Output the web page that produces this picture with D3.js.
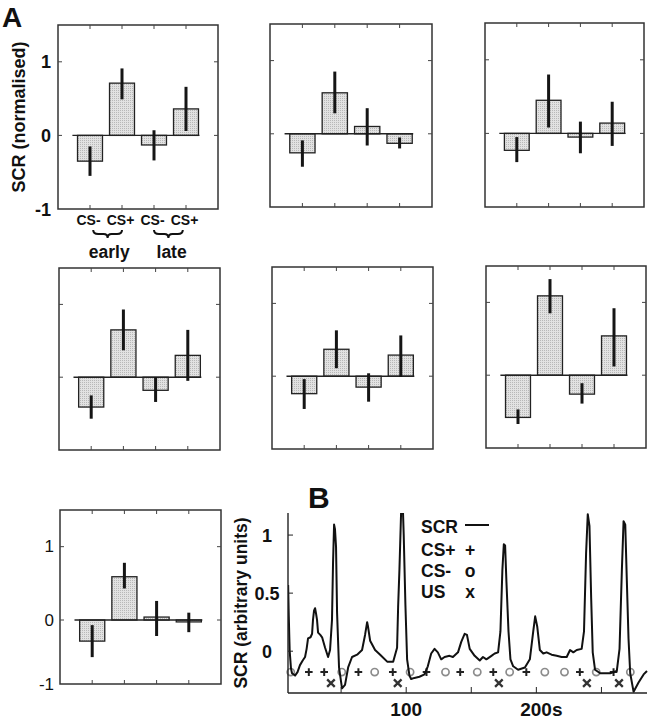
<!DOCTYPE html>
<html><head><meta charset="utf-8">
<script src="https://cdn.jsdelivr.net/npm/d3@7"></script>
<style>
body{margin:0;background:#fff}
svg{display:block}
text{font-family:"Liberation Sans",Arial,Helvetica,sans-serif;fill:#111}
</style>
</head><body>
<svg id="c" width="649" height="719"></svg>
<script>
// ---------------- DATA ----------------
const categories = ["CS-", "CS+", "CS-", "CS+"];
const groupLabels = ["early", "late"];
const yTickValuesA = [-1, 0, 1];

// bar heights for the 7 panels of A (normalised SCR)
const barValues = [
  [-0.35, 0.71, -0.13, 0.36],
  [-0.26, 0.56, 0.10, -0.13],
  [-0.23, 0.45, -0.05, 0.14],
  [-0.41, 0.65, -0.18, 0.30],
  [-0.24, 0.37, -0.15, 0.29],
  [-0.58, 1.09, -0.26, 0.54],
  [-0.33, 0.59, 0.04, -0.03]
];
// error bar lower ends
const errLow = [
  [-0.55, 0.49, -0.34, 0.06],
  [-0.45, 0.28, -0.16, -0.20],
  [-0.39, 0.08, -0.27, -0.17],
  [-0.57, 0.37, -0.34, -0.05],
  [-0.45, 0.11, -0.35, -0.01],
  [-0.67, 0.85, -0.39, 0.12],
  [-0.58, 0.43, -0.25, -0.19]
];
// error bar upper ends
const errHigh = [
  [-0.15, 0.91, 0.07, 0.66],
  [-0.09, 0.85, 0.35, -0.05],
  [-0.05, 0.80, 0.16, 0.43],
  [-0.25, 0.93, 0.00, 0.65],
  [-0.04, 0.63, 0.04, 0.56],
  [-0.47, 1.32, -0.11, 0.92],
  [-0.08, 0.78, 0.26, 0.10]
];

// panel B: SCR trace
const traceTime = [9.3, 9.8, 10.5, 11.5, 12.3, 14.6, 16.5, 18.4, 20.5, 22.3, 23.5, 24.6, 26.5, 27.7, 28.4, 29.2, 30, 30.8, 31.5, 32.3, 34, 35.4, 37.7, 40, 41.5, 43, 43.8, 44.6, 45.3, 46.1, 46.9, 48.4, 50.7, 53, 55.4, 58.4, 62.3, 66.1, 68.4, 70, 70.7, 72.3, 76.1, 80, 85.4, 90, 93, 93.8, 94.8, 96.1, 97.4, 98.1, 99.4, 100.7, 102.5, 103.8, 106.3, 110.2, 114.1, 116.6, 119.2, 121.8, 124.3, 126.9, 129.5, 133.3, 135.9, 139.8, 142.3, 144.9, 146.7, 148.8, 152.6, 156.5, 159, 161.6, 165.5, 168, 170.6, 172.4, 173.9, 175, 176, 177, 178.6, 180.1, 182.2, 186, 191.2, 195, 197.6, 199.1, 200.7, 202.7, 205.3, 207.9, 211.7, 215.6, 219.4, 223.3, 225.9, 228.4, 231, 234.8, 236.6, 238.2, 239.5, 240.8, 242.1, 243.3, 245.1, 249, 256.7, 261.8, 263.9, 265.7, 267, 268.3, 269.5, 270.8, 272.1, 274.7, 278.5, 282.4, 285];
const traceSCR = [0.57, 0.3, 0.0, -0.15, -0.19, -0.21, -0.18, -0.12, -0.08, -0.05, 0.02, 0.11, 0.12, 0.15, 0.27, 0.35, 0.37, 0.32, 0.27, 0.16, 0.14, 0.12, 0.03, -0.05, 0.01, 0.27, 0.76, 1.09, 1.05, 0.9, 0.33, -0.14, -0.32, -0.29, -0.14, -0.05, -0.03, 0.01, 0.14, 0.25, 0.21, 0.09, 0.01, -0.03, -0.09, -0.09, 0.03, 0.38, 0.7, 1.2, 1.25, 1.0, 0.4, -0.07, -0.21, -0.24, -0.23, -0.22, -0.2, -0.13, -0.02, 0.02, -0.01, -0.07, -0.05, -0.04, -0.05, -0.01, 0.08, 0.15, 0.14, 0.02, -0.04, -0.08, -0.05, -0.07, -0.04, -0.02, -0.01, 0.17, 0.7, 0.92, 0.91, 0.6, 0.17, -0.07, -0.13, -0.16, -0.14, -0.07, 0.17, 0.3, 0.21, 0.01, -0.02, -0.01, -0.03, -0.04, -0.05, -0.05, 0.01, -0.01, 0.01, 0.02, 0.17, 0.84, 1.18, 1.08, 0.46, -0.01, -0.16, -0.19, -0.19, -0.17, 0.02, 0.7, 1.12, 1.09, 0.61, 0.11, -0.19, -0.35, -0.27, -0.2, -0.17];
const csPlusTimes = [25.2, 37, 63.3, 89.7, 115.6, 141.5, 166.9, 192.3, 233.4, 259.3];
const csMinusTimes = [11.3, 50.5, 75.8, 103, 130.2, 154.6, 179.5, 206.5, 221.6, 246, 272.2];
const usTimes = [42.2, 93.5, 171.2, 238.8, 263.5];
const bYTicks = [0, 0.5, 1];
const bYTickLabels = ["0", "0.5", "1"];
const bXTicks = [50, 100, 150, 200, 250];
const bXTickLabels = ["", "100", "", "200s", ""];
const legendLabels = ["SCR", "CS+", "CS-", "US"];
const legendSymbols = ["", "+", "o", "x"];

// ---------------- DRAW ----------------
const svg = d3.select("#c");
const defs = svg.append("defs");
const pat = defs.append("pattern").attr("id", "stip").attr("width", 2).attr("height", 2)
  .attr("patternUnits", "userSpaceOnUse");
pat.append("rect").attr("width", 2).attr("height", 2).attr("fill", "#e2e2e2");
pat.append("rect").attr("width", 1).attr("height", 1).attr("fill", "#b8b8b8");

const boxes = [
  {x: 58, y: 25, w: 160, h: 184},
  {x: 270, y: 24, w: 162, h: 183},
  {x: 485, y: 23, w: 159, h: 184},
  {x: 59, y: 268, w: 161, h: 182},
  {x: 272, y: 267, w: 161, h: 182},
  {x: 486, y: 266, w: 160, h: 182},
  {x: 60, y: 510, w: 161, h: 174}
];

function drawPanel(i) {
  const b = boxes[i];
  const g = svg.append("g");
  const x = d3.scaleLinear().domain([0, 5]).range([b.x, b.x + b.w]);
  const y = (i === 6)
    ? d3.scaleLinear().domain([-1, 0, 1.5]).range([b.y + b.h, b.y + b.h - 64, b.y])
    : d3.scaleLinear().domain([-1, 1.5]).range([b.y + b.h, b.y]);
  const bw = 0.78;
  const vals = barValues[i];
  // bars
  g.selectAll("rect.bar").data(vals).enter().append("rect")
    .attr("x", (d, k) => x(k + 1 - bw / 2))
    .attr("width", x(bw) - x(0))
    .attr("y", d => Math.min(y(d), y(0)))
    .attr("height", d => Math.abs(y(d) - y(0)))
    .attr("fill", "url(#stip)").attr("stroke", "#222").attr("stroke-width", 1.3);
  // baseline
  g.append("line").attr("x1", x(0.45)).attr("x2", x(4.42)).attr("y1", y(0)).attr("y2", y(0))
    .attr("stroke", "#222").attr("stroke-width", 1.4);
  // error bars
  g.selectAll("line.err").data(vals).enter().append("line")
    .attr("x1", (d, k) => x(k + 1)).attr("x2", (d, k) => x(k + 1))
    .attr("y1", (d, k) => y(errLow[i][k])).attr("y2", (d, k) => y(errHigh[i][k]))
    .attr("stroke", "#151515").attr("stroke-width", 3);
  // frame
  g.append("rect").attr("x", b.x).attr("y", b.y).attr("width", b.w).attr("height", b.h)
    .attr("fill", "none").attr("stroke", "#333").attr("stroke-width", 1.5);
  // ticks
  const tl = 4;
  [1, 2, 3, 4].forEach(k => {
    g.append("line").attr("x1", x(k)).attr("x2", x(k)).attr("y1", b.y).attr("y2", b.y + tl).attr("stroke", "#444");
    g.append("line").attr("x1", x(k)).attr("x2", x(k)).attr("y1", b.y + b.h).attr("y2", b.y + b.h - tl).attr("stroke", "#444");
  });
  [0, 1].forEach(v => {
    g.append("line").attr("x1", b.x).attr("x2", b.x + tl).attr("y1", y(v)).attr("y2", y(v)).attr("stroke", "#444");
    g.append("line").attr("x1", b.x + b.w).attr("x2", b.x + b.w - tl).attr("y1", y(v)).attr("y2", y(v)).attr("stroke", "#444");
  });
  if (i === 0) {
    g.selectAll("text.yt").data(yTickValuesA).enter().append("text")
      .attr("x", 51).attr("y", d => y(d) + 6.5).attr("text-anchor", "end")
      .attr("font-size", 18).attr("font-weight", "bold").text(d => d);
    g.selectAll("text.cat").data(categories).enter().append("text")
      .attr("x", (d, k) => x(k + 1) - 1.5).attr("y", 225).attr("text-anchor", "middle")
      .attr("font-size", 14).attr("font-weight", "bold").text(d => d);
    // braces
    [[1.1, 2.0], [3.0, 3.9]].forEach(([a, c]) => {
      const x1 = x(a), x2 = x(c), m = (x1 + x2) / 2, t = 230, mid = 234, bot = 238;
      g.append("path").attr("d",
        `M${x1},${t} Q${x1},${mid} ${x1 + 5},${mid} L${m - 4},${mid} Q${m},${mid} ${m},${bot} Q${m},${mid} ${m + 4},${mid} L${x2 - 5},${mid} Q${x2},${mid} ${x2},${t}`)
        .attr("fill", "none").attr("stroke", "#111").attr("stroke-width", 2);
    });
    g.selectAll("text.grp").data(groupLabels).enter().append("text")
      .attr("x", (d, k) => x(k === 0 ? 1.6 : 3.55)).attr("y", 258).attr("text-anchor", "middle")
      .attr("font-size", 17.5).attr("font-weight", "bold").text(d => d);
    svg.append("text").attr("transform", `translate(19,${(b.y + b.y + b.h) / 2}) rotate(-90)`)
      .attr("text-anchor", "middle").attr("dominant-baseline", "central")
      .attr("font-size", 18).attr("font-weight", "bold").text("SCR (normalised)");
  }
  if (i === 6) {
    g.selectAll("text.yt").data(yTickValuesA).enter().append("text")
      .attr("x", 54).attr("y", d => y(d) + 5.5).attr("text-anchor", "end")
      .attr("font-size", 17).text(d => d === -1 ? "-1" : d);
  }
}
for (let i = 0; i < 7; i++) drawPanel(i);

svg.append("text").attr("x", 2).attr("y", 27).attr("font-size", 28).attr("font-weight", "bold").text("A");

// ---------------- PANEL B ----------------
const bx = d3.scaleLinear().domain([9.2, 285]).range([288, 647]);
const by = d3.scaleLinear().domain([-0.36, 1.19]).range([693, 513]);
const gB = svg.append("g");
defs.append("clipPath").attr("id", "clipB").append("rect")
  .attr("x", 288).attr("y", 513).attr("width", 360).attr("height", 181);

// markers
gB.selectAll("circle.csm").data(csMinusTimes).enter().append("circle")
  .attr("cx", d => bx(d)).attr("cy", by(-0.18)).attr("r", 3.6)
  .attr("fill", "none").attr("stroke", "#8c8c8c").attr("stroke-width", 1.7);
gB.selectAll("path.csp").data(csPlusTimes).enter().append("path")
  .attr("d", d => { const cx = bx(d), cy = by(-0.18), s = 3.8; return `M${cx - s},${cy}H${cx + s}M${cx},${cy - s}V${cy + s}`; })
  .attr("stroke", "#222").attr("stroke-width", 2);
gB.selectAll("path.us").data(usTimes).enter().append("path")
  .attr("d", d => { const cx = bx(d), cy = by(-0.275), s = 3.8; return `M${cx - s},${cy - s}L${cx + s},${cy + s}M${cx - s},${cy + s}L${cx + s},${cy - s}`; })
  .attr("stroke", "#333").attr("stroke-width", 2.3);

// trace
const traceData = traceTime.map((t, k) => [t, traceSCR[k]]);
gB.append("path").datum(traceData)
  .attr("clip-path", "url(#clipB)")
  .attr("d", d3.line().x(d => bx(d[0])).y(d => by(d[1])))
  .attr("fill", "none").attr("stroke", "#111").attr("stroke-width", 2).attr("stroke-linejoin", "round");

// axes
gB.append("line").attr("x1", 288).attr("x2", 288).attr("y1", 513).attr("y2", 693).attr("stroke", "#222").attr("stroke-width", 1.4);
gB.append("line").attr("x1", 288).attr("x2", 647).attr("y1", 693).attr("y2", 693).attr("stroke", "#222").attr("stroke-width", 1.4);
bYTicks.forEach((v, k) => {
  gB.append("line").attr("x1", 288).attr("x2", 293).attr("y1", by(v)).attr("y2", by(v)).attr("stroke", "#222");
  gB.append("text").attr("x", 267).attr("y", by(v) + 6.5).attr("text-anchor", "middle")
    .attr("font-size", 18).attr("font-weight", "bold").text(bYTickLabels[k]);
});
bXTicks.forEach((v, k) => {
  gB.append("line").attr("x1", bx(v)).attr("x2", bx(v)).attr("y1", 693).attr("y2", 687).attr("stroke", "#222");
  if (bXTickLabels[k]) {
    gB.append("text").attr("x", bx(v) + (bXTickLabels[k].endsWith("s") ? 5 : 0)).attr("y", 716)
      .attr("text-anchor", "middle").attr("font-size", 19).attr("font-weight", "bold").text(bXTickLabels[k]);
  }
});
svg.append("text").attr("transform", `translate(241,603) rotate(-90)`)
  .attr("text-anchor", "middle").attr("dominant-baseline", "central")
  .attr("font-size", 17.5).attr("font-weight", "bold").text("SCR (arbitrary units)");
svg.append("text").attr("x", 308).attr("y", 508).attr("font-size", 30).attr("font-weight", "bold").text("B");

// legend
const legY = [533, 556, 577, 598];
legendLabels.forEach((l, k) => {
  gB.append("text").attr("x", 421).attr("y", legY[k]).attr("font-size", 17.5).attr("font-weight", "bold").text(l);
  if (k === 0) {
    gB.append("line").attr("x1", 465).attr("x2", 489).attr("y1", legY[k] - 8).attr("y2", legY[k] - 8)
      .attr("stroke", "#111").attr("stroke-width", 2);
  } else {
    gB.append("text").attr("x", 470).attr("y", legY[k]).attr("text-anchor", "middle")
      .attr("font-size", 17.5).attr("font-weight", "bold").text(legendSymbols[k]);
  }
});
</script>
</body></html>
